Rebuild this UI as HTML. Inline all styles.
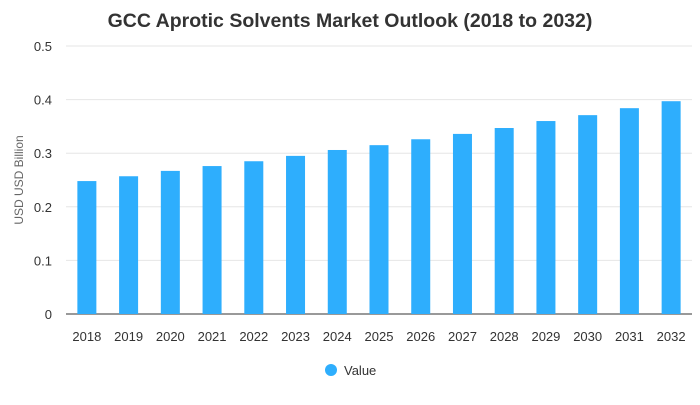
<!DOCTYPE html>
<html><head><meta charset="utf-8"><style>
body{margin:0;background:#fff;font-family:"Liberation Sans",sans-serif}
</style></head><body>
<svg width="700" height="400" xmlns="http://www.w3.org/2000/svg">
<text x="350" y="27" text-anchor="middle" font-size="19.5" font-weight="bold" fill="#333">GCC Aprotic Solvents Market Outlook (2018 to 2032)</text>
<g id="grid"></g><g id="bars"></g><g id="xt"></g><g id="yt"></g>
<text transform="translate(23,180) rotate(-90)" text-anchor="middle" font-size="12" fill="#666">USD USD Billion</text>
<g><circle cx="331" cy="370" r="6" fill="#2eaefd"/><text x="344" y="375" font-size="13" fill="#333">Value</text></g>
</svg>
<script>
const categories=["2018","2019","2020","2021","2022","2023","2024","2025","2026","2027","2028","2029","2030","2031","2032"];
const values=[0.248,0.257,0.267,0.276,0.285,0.295,0.306,0.315,0.326,0.336,0.347,0.360,0.371,0.384,0.397];
const yTicks=[0,0.1,0.2,0.3,0.4,0.5];
const NS="http://www.w3.org/2000/svg";
const x0=66,x1=692,yb=314,yt=46,ymax=0.5;
const step=(x1-x0)/categories.length;
const y=v=>yb-(v/ymax)*(yb-yt);
const xc=i=>x0+step*(i+0.5);
function mk(t,a,p){const e=document.createElementNS(NS,t);for(const k in a)e.setAttribute(k,a[k]);p.appendChild(e);return e;}
const g=document.getElementById('grid'),b=document.getElementById('bars'),xt=document.getElementById('xt'),ytg=document.getElementById('yt');
yTicks.forEach(v=>{
 const l=mk('line',{x1:x0,x2:x1,y1:y(v),y2:y(v),stroke:v===0?'#333':'#e6e6e6','stroke-width':1},g);
 
 
 const t=mk('text',{x:52,y:y(v)+5,'text-anchor':'end','font-size':13,fill:'#333'},ytg);
 t.textContent=String(v);
 
 
});
categories.forEach((c,i)=>{
 const r=mk('rect',{x:xc(i)-9.5,y:y(values[i]),width:19,height:yb-y(values[i]),fill:'#2eaefd'},b);
 
 
 const t=mk('text',{x:xc(i),y:341,'text-anchor':'middle','font-size':13,fill:'#333'},xt);
 t.textContent=c;
 
 
});
</script>
</body></html>
